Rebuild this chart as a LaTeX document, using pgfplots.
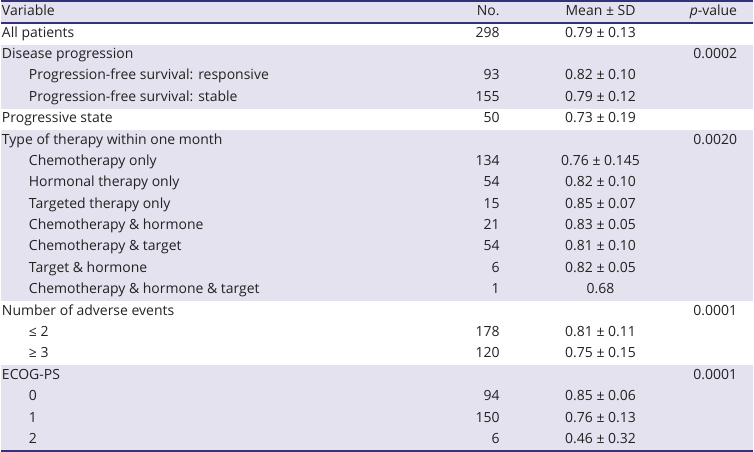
\documentclass[border=0pt]{standalone}
\usepackage{fontspec}
\setmainfont{Open Sans}
\usepackage{pgfplots}
\usepackage{pgfplotstable}
\pgfplotsset{compat=1.18}
\definecolor{shade}{HTML}{E4E2EE}
\definecolor{rule}{HTML}{34327A}
\definecolor{txt}{HTML}{222222}

\pgfplotstableread[col sep=comma]{
x,r,label
1,0,Variable
1,1,All patients
1,2,Disease progression
28,3,Progression-free survival: responsive
28,4,Progression-free survival: stable
1,5,Progressive state
1,6,Type of therapy within one month
28,7,Chemotherapy only
28,8,Hormonal therapy only
28,9,Targeted therapy only
28,10,Chemotherapy \& hormone
28,11,Chemotherapy \& target
28,12,Target \& hormone
28,13,Chemotherapy \& hormone \& target
1,14,Number of adverse events
28,15,≤ 2
28,16,≥ 3
1,17,ECOG-PS
28,18,0
28,19,1
28,20,2
}\labels

\pgfplotstableread[col sep=comma]{
x,r,label
500,0,No.
500,1,298
500,3,93
500,4,155
500,5,50
500,7,134
500,8,54
500,9,15
500,10,21
500,11,54
500,12,6
500,13,1
500,15,178
500,16,120
500,18,94
500,19,150
500,20,6
}\counts

\pgfplotstableread[col sep=comma]{
x,r,label
601,0,Mean ± SD
601,1,0.79 ± 0.13
601,3,0.82 ± 0.10
601,4,0.79 ± 0.12
601,5,0.73 ± 0.19
601,7,0.76 ± 0.145
601,8,0.82 ± 0.10
601,9,0.85 ± 0.07
601,10,0.83 ± 0.05
601,11,0.81 ± 0.10
601,12,0.82 ± 0.05
601,13,0.68
601,15,0.81 ± 0.11
601,16,0.75 ± 0.15
601,18,0.85 ± 0.06
601,19,0.76 ± 0.13
601,20,0.46 ± 0.32
}\means

\pgfplotstableread[col sep=comma]{
x,r,label
738,0,\textit{p}-value
738,2,0.0002
738,6,0.0020
738,14,0.0001
738,17,0.0001
}\pvals

\begin{document}
\begin{tikzpicture}
\begin{axis}[
  width=754bp, height=453bp, scale only axis,
  xmin=0, xmax=754, ymin=0, ymax=453, y dir=reverse,
  hide axis, clip=false,
  every node near coord/.append style={font=\fontsize{14bp}{16bp}\selectfont, text=txt, inner sep=0pt},
]
% shaded bands
\addplot[fill=shade, draw=none] coordinates {(0,2) (754,2) (754,23.4) (0,23.4)} -- cycle;
\addplot[fill=shade, draw=none] coordinates {(0,44.9) (754,44.9) (754,109.2) (0,109.2)} -- cycle;
\addplot[fill=shade, draw=none] coordinates {(0,130.6) (754,130.6) (754,302) (0,302)} -- cycle;
\addplot[fill=shade, draw=none] coordinates {(0,366.3) (754,366.3) (754,451) (0,451)} -- cycle;
% rules
\addplot[draw=rule, line width=1.6bp] coordinates {(0,1) (754,1)};
\addplot[draw=rule, line width=1.4bp] coordinates {(0,23.2) (754,23.2)};
\addplot[draw=rule, line width=1.6bp] coordinates {(0,452) (754,452)};
% texts
\addplot[only marks, mark=none,
  point meta=explicit symbolic, nodes near coords, nodes near coords align={anchor=mid west}]
  table[x=x, y expr=13.3+21.43*\thisrow{r}, meta=label]{\labels};
\addplot[only marks, mark=none,
  point meta=explicit symbolic, nodes near coords, nodes near coords align={anchor=mid east}]
  table[x=x, y expr=13.3+21.43*\thisrow{r}, meta=label]{\counts};
\addplot[only marks, mark=none,
  point meta=explicit symbolic, nodes near coords, nodes near coords align={anchor=mid}]
  table[x=x, y expr=13.3+21.43*\thisrow{r}, meta=label]{\means};
\addplot[only marks, mark=none,
  point meta=explicit symbolic, nodes near coords, nodes near coords align={anchor=mid east}]
  table[x=x, y expr=13.3+21.43*\thisrow{r}, meta=label]{\pvals};
\end{axis}
\end{tikzpicture}
\end{document}
